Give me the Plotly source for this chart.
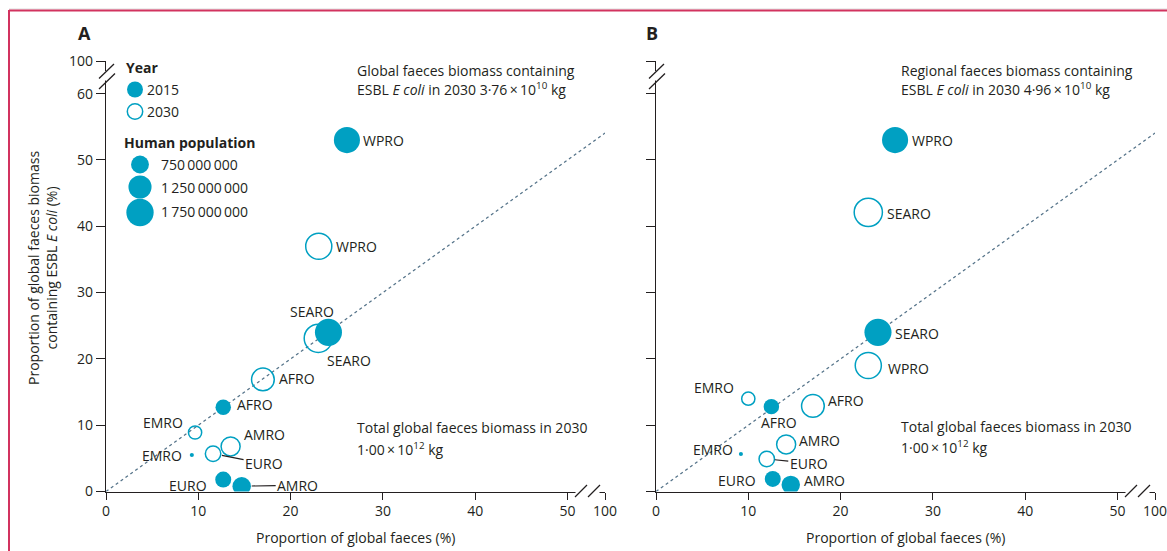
import math
import plotly.graph_objects as go

# ---------------- data ----------------
regions = ["AFRO", "AMRO", "EMRO", "EURO", "SEARO", "WPRO"]

# Panel A: proportion of global faeces (%) vs proportion of global faeces biomass containing ESBL E coli (%)
a_x_2015 = [12.7, 14.7, 9.3, 12.7, 24.1, 26.1]
a_y_2015 = [12.7, 0.8, 5.5, 1.8, 24.0, 53.0]
a_x_2030 = [17.0, 13.5, 9.65, 11.6, 23.0, 23.05]
a_y_2030 = [16.9, 6.8, 8.9, 5.7, 23.1, 37.0]

# Panel B: proportion of global faeces (%) vs regional faeces biomass containing ESBL E coli (%)
b_x_2015 = [12.5, 14.6, 9.2, 12.65, 24.05, 25.9]
b_y_2015 = [12.8, 1.0, 5.65, 1.9, 24.0, 53.0]
b_x_2030 = [17.0, 14.1, 10.0, 12.0, 23.0, 23.0]
b_y_2030 = [12.9, 7.1, 14.0, 4.9, 42.1, 19.0]

# human population (millions)
pop_2015 = [560, 800, 40, 600, 1720, 1600]
pop_2030 = [1210, 850, 410, 560, 1870, 1600]
legend_pop = [750, 1250, 1750]
legend_pop_text = ["750\u2009000\u2009000", "1\u2009250\u2009000\u2009000", "1\u2009750\u2009000\u2009000"]

x_ticks = [0, 10, 20, 30, 40, 50]
y_ticks = [0, 10, 20, 30, 40, 50, 60]
BREAK_LABEL = "100"

# ---------------- style ----------------
W, H = 1167, 551
TEAL = "#00a0c2"
INK = "#231f20"
DASH = "#56748a"
FONT = "'Open Sans', sans-serif"
X_MAX = 54.06   # axis position where the broken axis shows 100
Y_MAX = 64.93


def diam(p):
    return 27.3 * math.sqrt(p / 1750.0)


def PX(px):
    return px / W


def PY(py):
    return 1 - py / H


fig = go.Figure()

panels = [
    ("x", "y", a_x_2015, a_y_2015, a_x_2030, a_y_2030),
    ("x2", "y2", b_x_2015, b_y_2015, b_x_2030, b_y_2030),
]

for xr, yr, x15, y15, x30, y30 in panels:
    fig.add_trace(go.Scatter(x=[0, X_MAX], y=[0, X_MAX], xaxis=xr, yaxis=yr, mode="lines",
                             line=dict(color=DASH, width=1.3, dash="3px,3px"),
                             hoverinfo="skip", showlegend=False))
    fig.add_trace(go.Scatter(x=x30, y=y30, xaxis=xr, yaxis=yr, mode="markers", text=regions,
                             marker=dict(size=[diam(p) for p in pop_2030], color="rgba(255,255,255,0)",
                                         opacity=1, line=dict(color=TEAL, width=1.5)),
                             showlegend=False))
    fig.add_trace(go.Scatter(x=x15, y=y15, xaxis=xr, yaxis=yr, mode="markers", text=regions,
                             marker=dict(size=[diam(p) for p in pop_2015], color=TEAL,
                                         opacity=1, line=dict(width=0)),
                             showlegend=False))

# label placement: (xanchor, xshift, yshift) or ("arrow", ax, ay, standoff)
lab_a15 = {"WPRO": ("left", 14, 0), "SEARO": ("center", -16, 21), "AFRO": ("left", 12, 3),
           "EMRO": ("right", -8, 0), "EURO": ("right", -14, -6), "AMRO": ("arrow", 56, -1, 10)}
lab_a30 = {"WPRO": ("left", 15, 0), "SEARO": ("center", 31, -22), "AFRO": ("left", 14, 1),
           "EMRO": ("right", -10, 10), "AMRO": ("left", 11, 12), "EURO": ("arrow", 51, 10, 9)}
lab_b15 = {"WPRO": ("left", 15, 0), "SEARO": ("left", 15, -1), "AFRO": ("center", 8, -16),
           "EMRO": ("right", -6, 5), "EURO": ("right", -15, -2), "AMRO": ("left", 11, 4)}
lab_b30 = {"WPRO": ("left", 18, -3), "SEARO": ("left", 17, -1), "AFRO": ("left", 13, 5),
           "EMRO": ("right", -12, 11), "AMRO": ("left", 11, 4), "EURO": ("arrow", 42, 4, 8)}

lab_font = dict(family=FONT, size=14, color=INK)


def add_labels(xs, ys, xr, yr, specs):
    for r, x, y in zip(regions, xs, ys):
        s = specs[r]
        if s[0] == "arrow":
            fig.add_annotation(x=x, y=y, xref=xr, yref=yr, text=r, showarrow=True, arrowhead=0,
                               arrowwidth=1.2, arrowcolor=INK, ax=s[1], ay=s[2], standoff=s[3],
                               font=lab_font)
        else:
            fig.add_annotation(x=x, y=y, xref=xr, yref=yr, text=r, showarrow=False,
                               xanchor=s[0], yanchor="middle", xshift=s[1], yshift=s[2],
                               font=lab_font)


add_labels(a_x_2015, a_y_2015, "x", "y", lab_a15)
add_labels(a_x_2030, a_y_2030, "x", "y", lab_a30)
add_labels(b_x_2015, b_y_2015, "x2", "y2", lab_b15)
add_labels(b_x_2030, b_y_2030, "x2", "y2", lab_b30)

# ---------------- axes ----------------
ax_common = dict(showgrid=False, zeroline=False, showline=True, linecolor=INK, linewidth=1.3,
                 ticks="outside", tickcolor=INK, tickwidth=1.3, automargin=False,
                 tickfont=dict(family=FONT, size=14, color=INK))
xt_vals = x_ticks + [X_MAX]
xt_text = [str(v) for v in x_ticks] + [BREAK_LABEL]
yt_vals = y_ticks + [Y_MAX]
yt_text = [str(v) for v in y_ticks] + [BREAK_LABEL]

ydom = [PY(491.5), PY(61)]
fig.update_layout(
    xaxis=dict(domain=[PX(106), PX(605)], range=[0, X_MAX], tickvals=xt_vals, ticktext=xt_text,
               ticklen=7, anchor="y", ticklabeloverflow="allow", **ax_common),
    yaxis=dict(domain=ydom, range=[0, Y_MAX], tickvals=yt_vals, ticktext=yt_text,
               ticklen=9, anchor="x", **ax_common),
    xaxis2=dict(domain=[PX(656), PX(1155)], range=[0, X_MAX], tickvals=xt_vals, ticktext=xt_text,
                ticklen=7, anchor="y2", ticklabeloverflow="allow", **ax_common),
    yaxis2=dict(domain=ydom, range=[0, Y_MAX], tickvals=yt_vals, ticktext=yt_text,
                ticklen=9, anchor="x2", showticklabels=False, **ax_common),
)

# ---------------- axis breaks & frame ----------------
shapes = []


def seg(x0, y0, x1, y1, color=INK, w=1.3):
    shapes.append(dict(type="line", xref="paper", yref="paper", x0=PX(x0), y0=PY(y0),
                       x1=PX(x1), y1=PY(y1), line=dict(color=color, width=w)))


def rect(x0, y0, x1, y1):
    shapes.append(dict(type="rect", xref="paper", yref="paper", x0=PX(x0), y0=PY(y0),
                       x1=PX(x1), y1=PY(y1), fillcolor="white", line=dict(width=0)))


for dx in (0, 550):
    # y-axis break
    rect(103 + dx, 71, 111 + dx, 80.5)
    seg(99 + dx, 78.5, 114 + dx, 64)
    seg(99 + dx, 89, 115 + dx, 73.5)
    # x-axis break
    rect(575.5 + dx, 489, 599.5 + dx, 494.5)
    seg(575 + dx, 497, 587 + dx, 485)
    seg(588 + dx, 497, 600 + dx, 485)

# outer frame (top and left edges)
seg(9, 9, W, 9, color="#dddddd", w=1)
seg(9, 10.5, W, 10.5, color="#d2335f", w=2)
seg(9, 10, 9, H, color="#d2335f", w=2)

# legend circles
shapes.append(dict(type="circle", xref="paper", yref="paper", xsizemode="pixel", ysizemode="pixel",
                   xanchor=PX(135), yanchor=PY(89.5), x0=-8, x1=8, y0=-8, y1=8,
                   fillcolor=TEAL, line=dict(width=0)))
shapes.append(dict(type="circle", xref="paper", yref="paper", xsizemode="pixel", ysizemode="pixel",
                   xanchor=PX(135), yanchor=PY(111.5), x0=-7.7, x1=7.7, y0=-7.7, y1=7.7,
                   fillcolor="white", line=dict(color=TEAL, width=1.5)))
leg_y = [164.5, 187, 212.5]
for p, yy in zip(legend_pop, leg_y):
    r = diam(p) / 2
    shapes.append(dict(type="circle", xref="paper", yref="paper", xsizemode="pixel",
                       ysizemode="pixel", xanchor=PX(140), yanchor=PY(yy), x0=-r, x1=r, y0=-r, y1=r,
                       fillcolor=TEAL, line=dict(width=0)))
fig.update_layout(shapes=shapes)

# ---------------- texts ----------------


def note(px, py, text, size=14, bold=False, xanchor="left", angle=0):
    t = f"<b>{text}</b>" if bold else text
    fig.add_annotation(x=PX(px), y=PY(py), xref="paper", yref="paper", text=t, showarrow=False,
                       xanchor=xanchor, yanchor="middle", textangle=angle,
                       font=dict(family=FONT, size=size, color=INK))


note(85, 33, "A", size=18, bold=True, xanchor="center")
note(652, 33, "B", size=18, bold=True, xanchor="center")

note(124, 68, "Year", bold=True)
note(145, 90, "2015")
note(145, 111, "2030")
note(122, 142, "Human population", bold=True)
for t, yy in zip(legend_pop_text, [164.5, 187, 211]):
    note(159, yy, t)

note(355, 70, "Global faeces biomass containing")
note(355, 89, "ESBL <i>E coli</i> in 2030 3·76\u2009×\u200910<sup>10</sup> kg")
note(355, 428, "Total global faeces biomass in 2030")
note(355, 449, "1·00\u2009×\u200910<sup>12</sup> kg")

note(899, 70, "Regional faeces biomass containing")
note(899, 89, "ESBL <i>E coli</i> in 2030 4·96\u2009×\u200910<sup>10</sup> kg")
note(899, 426, "Total global faeces biomass in 2030")
note(899, 447, "1·00\u2009×\u200910<sup>12</sup> kg")

note(355, 537, "Proportion of global faeces (%)", xanchor="center")
note(905, 537, "Proportion of global faeces (%)", xanchor="center")
note(42, 268, "Proportion of global faeces biomass<br>containing ESBL <i>E coli</i> (%)",
     xanchor="center", angle=-90)

fig.update_layout(width=W, height=H, margin=dict(l=0, r=0, t=0, b=0, pad=0, autoexpand=False),
                  paper_bgcolor="white", plot_bgcolor="rgba(0,0,0,0)",
                  font=dict(family=FONT, size=14, color=INK), showlegend=False)

page_fix = ("document.documentElement.style.margin='0';document.documentElement.style.padding='0';"
            "document.documentElement.style.overflow='hidden';"
            "document.body.style.margin='0';document.body.style.padding='0';"
            "document.body.style.overflow='hidden';")
fig.write_html("out.html", post_script=page_fix, config={"displayModeBar": False})
